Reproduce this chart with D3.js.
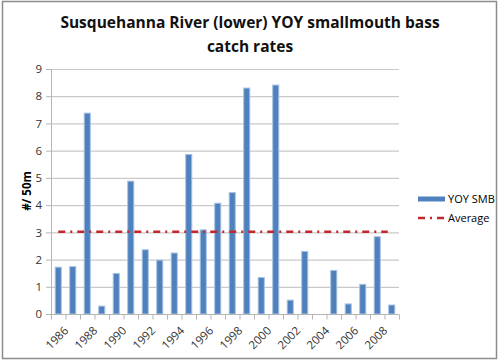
<!DOCTYPE html>
<html>
<head>
<meta charset="utf-8">
<script src="https://cdn.jsdelivr.net/npm/d3@7"></script>
<style>
  body { margin: 0; background: #fff; }
  text { font-family: "Open Sans", "Noto Sans", sans-serif; }
</style>
</head>
<body>
<svg id="drawing_region"></svg>
<script>
// data
const years = ["1986","1987","1988","1989","1990","1991","1992","1993","1994","1995","1996","1997",
               "1998","1999","2000","2001","2002","2003","2004","2005","2006","2007","2008","2009"];
const yoySMB = [1.72, 1.74, 7.38, 0.29, 1.49, 4.88, 2.36, 1.98, 2.24, 5.86, 3.09, 4.07,
                4.46, 8.30, 1.34, 8.41, 0.51, 2.30, 0, 1.60, 0.37, 1.09, 2.84, 0.33];
const averageValue = 3.02;
const yTicks = [0, 1, 2, 3, 4, 5, 6, 7, 8, 9];
const yearLabels = ["1986","1988","1990","1992","1994","1996","1998","2000","2002","2004","2006","2008"];

const config = {
    width: 500,
    height: 363,
    margin: {top: 69, right: 100, bottom: 49, left: 51}
};

const svg = d3.select('#drawing_region')
    .attr('width', config.width)
    .attr('height', config.height);

// outer frame
svg.append('rect')
    .attr('x', 2.5).attr('y', 1.5)
    .attr('width', 494).attr('height', 357)
    .attr('fill', '#fff')
    .attr('stroke', '#8c8c8c')
    .attr('stroke-width', 1.5);

const inner_width = config.width - config.margin.left - config.margin.right;
const inner_height = config.height - config.margin.top - config.margin.bottom;

const chart = svg.append('g')
    .attr('transform', `translate(${config.margin.left}, ${config.margin.top})`);

const xscale = d3.scaleBand()
    .domain(years)
    .range([0, 348])
    .paddingInner(0.58)
    .paddingOuter(0.29);

const yscale = d3.scaleLinear()
    .domain([0, 9])
    .range([245, 0]);

// gridlines
chart.append('g')
    .selectAll('line')
    .data(yTicks.filter(d => d > 0))
    .join('line')
    .attr('x1', 0).attr('x2', 348)
    .attr('y1', d => yscale(d) + 0.5).attr('y2', d => yscale(d) + 0.5)
    .attr('stroke', '#c9c9c9')
    .attr('stroke-width', 1.2);

// y axis
const yaxis = d3.axisLeft(yscale).tickValues(yTicks).tickSize(5).tickPadding(4);
const yaxis_group = chart.append('g').call(yaxis);
yaxis_group.select('.domain').attr('stroke', '#b5b5b5');
yaxis_group.selectAll('.tick line').attr('stroke', '#b5b5b5');
yaxis_group.selectAll('.tick text')
    .attr('fill', '#333')
    .style('font-size', '11.5px');

// bars
chart.append('g')
    .selectAll('rect')
    .data(years.map((y, i) => ({year: y, value: yoySMB[i]})).filter(d => d.value > 0))
    .join('rect')
    .attr('x', d => xscale(d.year))
    .attr('y', d => yscale(d.value))
    .attr('width', xscale.bandwidth())
    .attr('height', d => yscale(0) - yscale(d.value))
    .attr('fill', '#4f81bd')
    .attr('stroke', '#a9c2e3')
    .attr('stroke-width', 1);

// average line
const cx = d => xscale(d) + xscale.bandwidth() / 2;
chart.append('line')
    .attr('x1', cx(years[0]))
    .attr('x2', cx(years[years.length - 1]) - 4)
    .attr('y1', yscale(averageValue))
    .attr('y2', yscale(averageValue))
    .attr('stroke', '#c0282d')
    .attr('stroke-width', 2.5)
    .attr('stroke-dasharray', '7,5,2,5');

// x axis
const xaxis_group = chart.append('g')
    .attr('transform', `translate(0, ${inner_height + 0.5})`);
const xpos = d3.scaleLinear().domain([0, years.length]).range([0, 348]);
xaxis_group.append('line')
    .attr('x1', 0).attr('x2', 348)
    .attr('stroke', '#b5b5b5');
xaxis_group.selectAll('line.tick')
    .data(d3.range(years.length + 1))
    .join('line')
    .attr('class', 'tick')
    .attr('x1', d => xpos(d) + 0.5).attr('x2', d => xpos(d) + 0.5)
    .attr('y1', 0).attr('y2', 5)
    .attr('stroke', '#b5b5b5');
xaxis_group.selectAll('text')
    .data(yearLabels)
    .join('text')
    .attr('transform', d => `translate(${cx(d) + 6}, 12) rotate(-45)`)
    .attr('text-anchor', 'end')
    .attr('dy', '0.6em')
    .attr('fill', '#333')
    .style('font-size', '11.5px')
    .text(d => d);

// y axis title
svg.append('text')
    .attr('transform', 'translate(31, 191) rotate(-90)')
    .attr('text-anchor', 'middle')
    .style('font-size', '11.5px')
    .style('font-weight', 'bold')
    .text('#/ 50m');

// title
const title = svg.append('text')
    .attr('text-anchor', 'middle')
    .style('font-size', '15.5px')
    .style('font-weight', 'bold')
    .attr('fill', '#111');
title.append('tspan').attr('x', 250).attr('y', 28).text('Susquehanna River (lower) YOY smallmouth bass');
title.append('tspan').attr('x', 250).attr('y', 52).text('catch rates');

// legend
const legend = svg.append('g').attr('transform', 'translate(418, 199)');
legend.append('rect')
    .attr('x', 0).attr('y', -2.5)
    .attr('width', 27).attr('height', 5)
    .attr('fill', '#4f81bd');
legend.append('text')
    .attr('x', 30).attr('y', 0).attr('dy', '0.35em')
    .style('font-size', '11px')
    .text('YOY SMB');
legend.append('line')
    .attr('x1', 0).attr('x2', 28)
    .attr('y1', 19).attr('y2', 19)
    .attr('stroke', '#c0282d')
    .attr('stroke-width', 2.5)
    .attr('stroke-dasharray', '7,5,2,5');
legend.append('text')
    .attr('x', 30).attr('y', 19).attr('dy', '0.35em')
    .style('font-size', '11px')
    .text('Average');
</script>
</body>
</html>
